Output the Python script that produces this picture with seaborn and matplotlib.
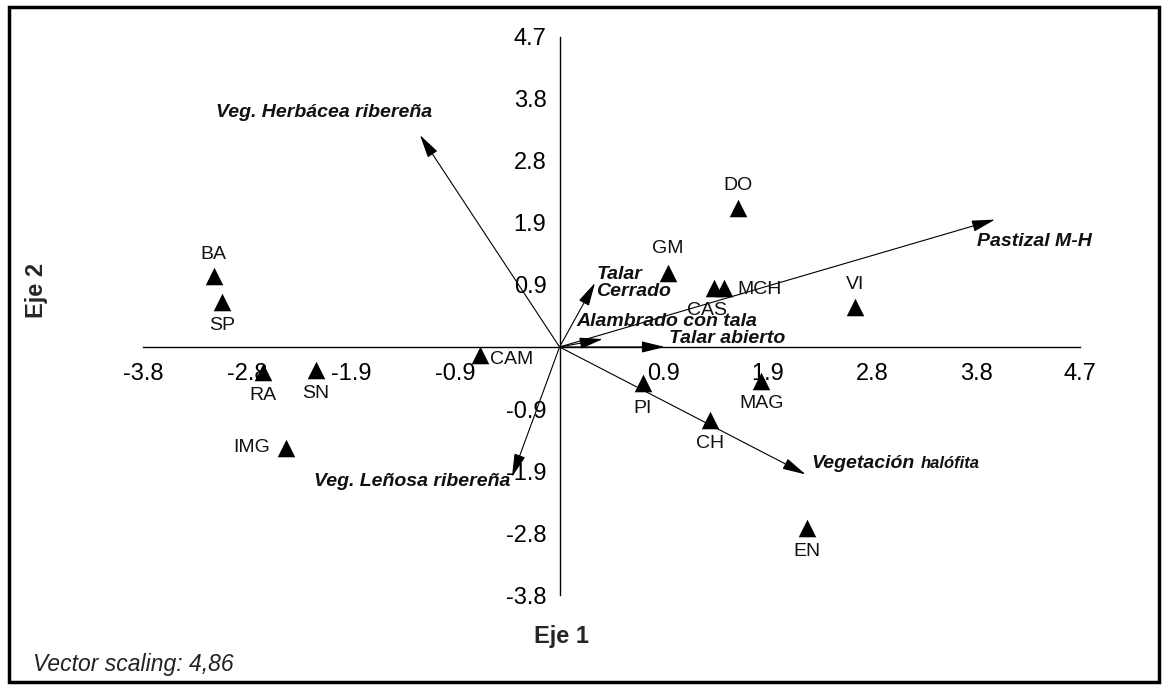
import matplotlib
matplotlib.use("Agg")
import matplotlib.pyplot as plt
from matplotlib.patches import Rectangle
import pandas as pd
import seaborn as sns

# Sites (scores on Eje 1 / Eje 2)
sites = ["BA", "SP", "RA", "SN", "CAM", "IMG", "GM", "DO", "CAS", "MCH",
         "VI", "PI", "MAG", "CH", "EN"]
eje1 = [-3.12, -3.05, -2.68, -2.20, -0.72, -2.47, 0.98, 1.61, 1.39, 1.48,
        2.67, 0.75, 1.82, 1.36, 2.23]
eje2 = [1.08, 0.68, -0.38, -0.35, -0.12, -1.53, 1.12, 2.11, 0.89, 0.89,
        0.61, -0.55, -0.52, -1.11, -2.74]

# Environmental vectors (arrow tips)
variables = ["Veg. Herbácea ribereña", "Pastizal M-H", "Talar\nCerrado",
             "Alambrado con tala", "Talar abierto", "Vegetación",
             "Veg. Leñosa ribereña"]
vec1 = [-1.26, 3.93, 0.32, 0.39, 0.95, 2.22, -0.43]
vec2 = [3.21, 1.93, 0.97, 0.12, 0.00, -1.93, -1.97]

ticks = [-3.76, -2.82, -1.88, -0.94, 0.94, 1.88, 2.82, 3.76, 4.7]
tick_labels = ["-3.8", "-2.8", "-1.9", "-0.9", "0.9", "1.9", "2.8", "3.8", "4.7"]

df = pd.DataFrame({"site": sites, "eje1": eje1, "eje2": eje2})

sns.set_theme(style="white")
plt.rcParams["font.family"] = ["Liberation Sans", "DejaVu Sans"]

fig = plt.figure(figsize=(11.66, 6.87), dpi=100)
ax = fig.add_axes([10 / 1166, 6 / 687, 1149 / 1166, 672 / 687])

# vectors
arrow_style = "-|>,head_length=0.9,head_width=0.22"
for name, vx, vy in zip(variables, vec1, vec2):
    ax.annotate("", xy=(vx, vy), xytext=(0, 0),
                arrowprops=dict(arrowstyle=arrow_style, color="black", lw=0.8,
                                mutation_scale=16, shrinkA=0, shrinkB=0))

# sites
sns.scatterplot(data=df, x="eje1", y="eje2", marker="^", s=160, color="black",
                edgecolor="black", linewidth=0, ax=ax, legend=False, zorder=5)

ax.set_xlim(-4.96, 5.41)
ax.set_ylim(-5.06, 5.12)
ax.set_xlabel("")
ax.set_ylabel("")

# axes through the origin
for side in ["top", "right"]:
    ax.spines[side].set_visible(False)
ax.spines["left"].set_position(("data", 0))
ax.spines["bottom"].set_position(("data", 0))
ax.spines["left"].set_bounds(-3.76, 4.7)
ax.spines["bottom"].set_bounds(-3.76, 4.7)
for side in ["left", "bottom"]:
    ax.spines[side].set_color("black")
    ax.spines[side].set_linewidth(1.0)
ax.set_xticks(ticks)
ax.set_xticklabels(tick_labels)
ax.set_yticks(ticks)
ax.set_yticklabels(tick_labels)
ax.tick_params(direction="inout", length=15, width=1, labelsize=17,
               colors="black", pad=2)
ax.tick_params(axis="x", pad=4)

# vector labels: offsets in points from the arrow tip
vec_label_pos = {
    "Veg. Herbácea ribereña": (-69, 16, "center"),
    "Pastizal M-H": (-13, -16, "left"),
    "Talar\nCerrado": (1, 0, "left"),
    "Alambrado con tala": (-19, 13, "left"),
    "Talar abierto": (3, 6, "left"),
    "Vegetación": (4, 8, "left"),
    "Veg. Leñosa ribereña": (-1, -3, "right"),
}
for name, vx, vy in zip(variables, vec1, vec2):
    dx, dy, ha = vec_label_pos[name]
    ax.annotate(name, xy=(vx, vy), xytext=(dx, dy), textcoords="offset points",
                ha=ha, va="center", fontsize=14, fontweight="bold",
                fontstyle="italic", color="#111111", linespacing=0.95)
# smaller second word of the halophyte label
ax.annotate("halófita", xy=(vec1[5], vec2[5]), xytext=(83, 8),
            textcoords="offset points", ha="left", va="center", fontsize=12,
            fontweight="bold", fontstyle="italic", color="#111111")

site_label_pos = {
    "BA": (0, 15, "center"), "SP": (0, -17, "center"), "RA": (0, -17, "center"),
    "SN": (0, -17, "center"), "CAM": (7, -3, "left"), "IMG": (-11, 0, "right"),
    "GM": (0, 18, "center"), "DO": (0, 16, "center"), "CAS": (-5, -16, "center"),
    "MCH": (10, -1, "left"), "VI": (0, 16, "center"), "PI": (0, -18, "center"),
    "MAG": (0, -16, "center"), "CH": (0, -17, "center"), "EN": (0, -17, "center"),
}
for s, x, y in zip(sites, eje1, eje2):
    dx, dy, ha = site_label_pos[s]
    ax.annotate(s, xy=(x, y), xytext=(dx, dy), textcoords="offset points",
                ha=ha, va="center", fontsize=14, color="#111111")

# axis titles and note
fig.text(37 / 1166, 1 - 290 / 687, "Eje 2", rotation=90, ha="center",
         va="center", fontsize=17, fontweight="bold")
fig.text(562 / 1166, 1 - 636 / 687, "Eje 1", ha="center", va="center",
         fontsize=17, fontweight="bold")
fig.text(33 / 1166, 1 - 665 / 687, "Vector scaling: 4,86", ha="left",
         va="center", fontsize=16.5, fontstyle="italic", color="#222222")

# outer frame
fig.add_artist(Rectangle((9 / 1166, 5 / 687), 1150 / 1166, 675 / 687,
                         transform=fig.transFigure, fill=False,
                         edgecolor="black", linewidth=2.5))

fig.savefig("out.png", dpi=100)
